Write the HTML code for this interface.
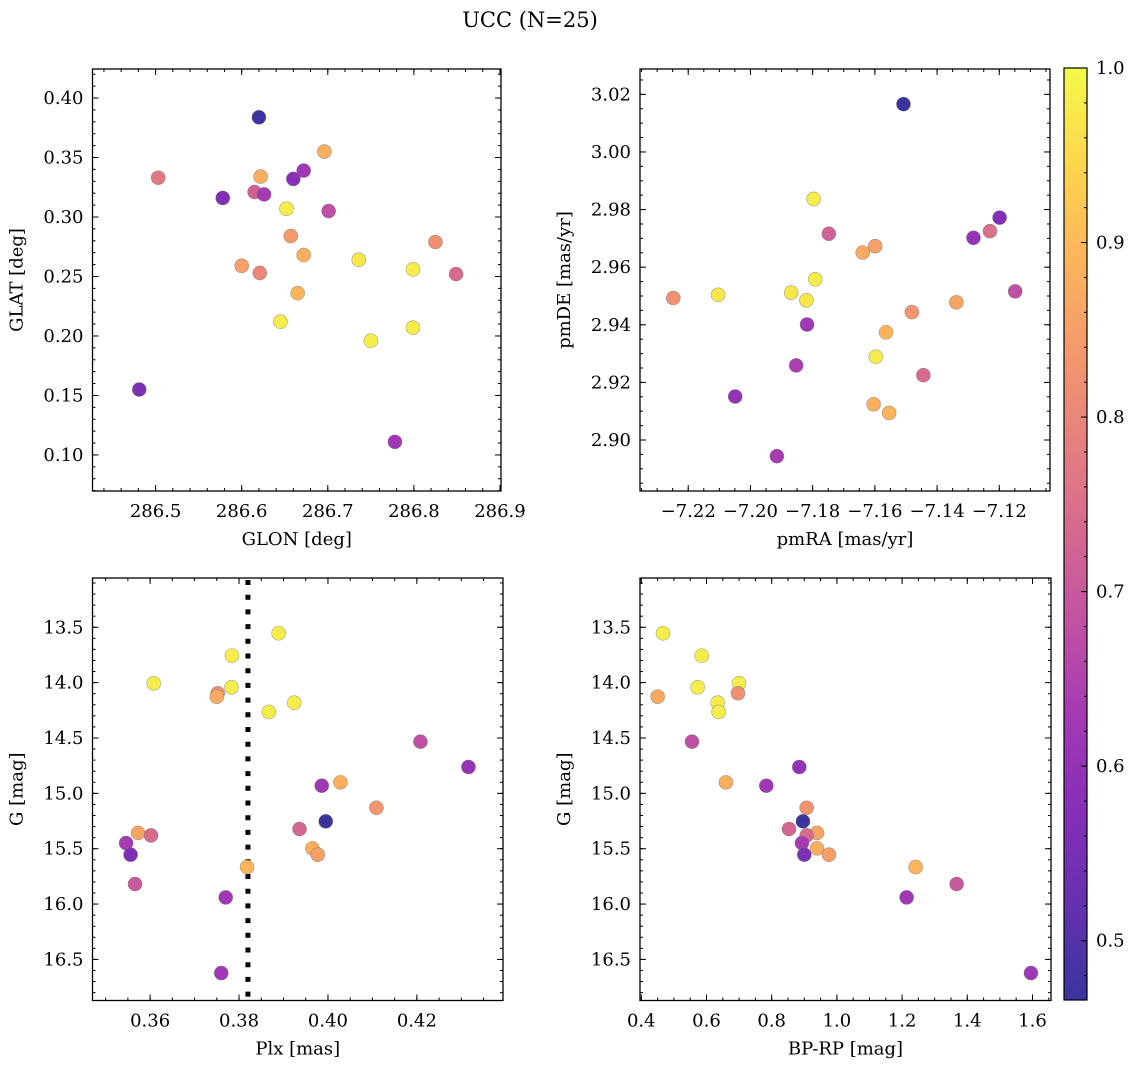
<!DOCTYPE html>
<html><head><meta charset="utf-8">
<style>
html,body{margin:0;padding:0;background:#fff;}
svg{display:block;font-family:"DejaVu Serif","Liberation Serif",serif;}
</style></head>
<body>
<svg id="fig" width="1136" height="1068" viewBox="0 0 1136 1068" xmlns="http://www.w3.org/2000/svg">
<rect width="1136" height="1068" fill="#fff"/>
<text x="530" y="27" font-size="21" text-anchor="middle">UCC (N=25)</text>
</svg>
<script>
// ---- data: panel 1 (GLON vs GLAT) ----
const glon1 = [286.620,286.696,286.503,286.622,286.672,286.660,286.578,286.615,286.626,286.652,286.701,286.657,286.672,286.825,286.600,286.621,286.736,286.799,286.849,286.665,286.645,286.799,286.750,286.481,286.778];
const glat1 = [0.3838,0.355,0.333,0.334,0.339,0.332,0.316,0.321,0.319,0.307,0.305,0.284,0.268,0.279,0.259,0.253,0.264,0.256,0.252,0.236,0.212,0.207,0.196,0.155,0.111];
const col1  = [0.47,0.88,0.77,0.88,0.62,0.58,0.57,0.72,0.63,0.98,0.68,0.84,0.88,0.82,0.85,0.80,0.97,0.98,0.74,0.89,0.98,0.98,0.98,0.56,0.62];
// ---- data: panel 2 (pmRA vs pmDE) ----
const pmra2 = [-7.1508,-7.1797,-7.1748,-7.1639,-7.1599,-7.1199,-7.1283,-7.1230,-7.2248,-7.2104,-7.1869,-7.1820,-7.1792,-7.1149,-7.1338,-7.1481,-7.1818,-7.1564,-7.1597,-7.1853,-7.1444,-7.2049,-7.1604,-7.1554,-7.1915];
const pmde2 = [3.0166,2.9837,2.9716,2.9651,2.9673,2.9772,2.9702,2.9725,2.9493,2.9504,2.9512,2.9485,2.9558,2.9516,2.9478,2.9444,2.9401,2.9374,2.9289,2.9259,2.9225,2.9151,2.9124,2.9094,2.8944];
const col2  = [0.47,0.98,0.72,0.87,0.85,0.57,0.60,0.75,0.82,0.97,0.97,0.97,0.98,0.68,0.86,0.83,0.62,0.89,0.98,0.64,0.74,0.60,0.88,0.89,0.63];
// ---- data: panels 3/4 (Plx, BP-RP vs G) ----
const gmag  = [13.554,13.756,14.006,14.042,14.096,14.127,14.181,14.265,14.533,14.762,14.901,14.931,15.130,15.253,15.322,15.358,15.380,15.449,15.554,15.497,15.554,15.666,15.819,15.940,16.623];
const plx   = [0.3889,0.3784,0.3608,0.3783,0.3752,0.3750,0.3924,0.3867,0.4208,0.4316,0.4028,0.3986,0.4109,0.3995,0.3936,0.3573,0.3602,0.3546,0.3556,0.3965,0.3977,0.3818,0.3566,0.3770,0.3760];
const bprp  = [0.4665,0.5851,0.6996,0.5728,0.6965,0.4501,0.6342,0.6372,0.5554,0.8847,0.6597,0.7834,0.9072,0.8959,0.8530,0.9389,0.9072,0.8928,0.9000,0.9389,0.9757,1.2415,1.3673,1.2139,1.5953];
const col34 = [0.98,0.98,0.98,0.98,0.82,0.87,0.98,0.98,0.68,0.60,0.88,0.62,0.83,0.47,0.73,0.86,0.74,0.63,0.56,0.88,0.85,0.89,0.70,0.62,0.62];
const plxLine = 0.382;
const xTicks1 = [286.5,286.6,286.7,286.8,286.9];
const yTicks1 = [0.10,0.15,0.20,0.25,0.30,0.35,0.40];
const xTicks2 = [-7.22,-7.20,-7.18,-7.16,-7.14,-7.12];
const yTicks2 = [2.90,2.92,2.94,2.96,2.98,3.00,3.02];
const xTicks3 = [0.36,0.38,0.40,0.42];
const yTicksG = [13.5,14.0,14.5,15.0,15.5,16.0,16.5];
const xTicks4 = [0.4,0.6,0.8,1.0,1.2,1.4,1.6];
const cbTicks = [0.5,0.6,0.7,0.8,0.9,1.0];
const vmin = 0.466, vmax = 1.0;

const NS = "http://www.w3.org/2000/svg";
const svg = document.getElementById('fig');
function mk(tag, attrs, parent){ const e=document.createElementNS(NS,tag); for(const k in attrs) e.setAttribute(k,attrs[k]); (parent||svg).appendChild(e); return e; }

const plasma = [[13,8,135],[65,4,157],[106,0,168],[143,13,164],[177,42,144],[204,71,120],[225,100,98],[242,132,75],[252,166,54],[252,206,37],[240,249,33]];
function cmap(v){
  let t=(v-vmin)/(vmax-vmin); t=Math.max(0,Math.min(1,t));
  const f=t*10, i=Math.min(9,Math.floor(f)), r=f-i;
  const c=plasma[i].map((a,k)=>a+(plasma[i+1][k]-a)*r);
  const a=0.82;
  return 'rgb('+c.map(x=>Math.round(x*a+255*(1-a))).join(',')+')';
}

function fmt(v,d){ const s=v.toFixed(d); return s.replace('-','\u2212'); }

function panel(o){
  const g=mk('g',{});
  
  
  const sx=v=>o.x0+(v-o.xl[0])/(o.xl[1]-o.xl[0])*(o.x1-o.x0);
  const sy=o.inv ? (v=>o.y0+(v-o.yl[0])/(o.yl[1]-o.yl[0])*(o.y1-o.y0))
                 : (v=>o.y1-(v-o.yl[0])/(o.yl[1]-o.yl[0])*(o.y1-o.y0));
  const minor=(lo,hi,step)=>{ const out=[]; for(let v=Math.ceil(lo/step-1e-6)*step; v<=hi+1e-9; v+=step) out.push(v); return out; };
  const tk=mk('g',{stroke:'#000','stroke-width':1},g);
  
  
  minor(o.xl[0],o.xl[1],o.xm).forEach(v=>{const x=sx(v);
    mk('line',{x1:x,x2:x,y1:o.y1,y2:o.y1-3},tk); mk('line',{x1:x,x2:x,y1:o.y0,y2:o.y0+3},tk);});
  minor(o.yl[0],o.yl[1],o.ym).forEach(v=>{const y=sy(v);
    mk('line',{x1:o.x0,x2:o.x0+3,y1:y,y2:y},tk); mk('line',{x1:o.x1,x2:o.x1-3,y1:y,y2:y},tk);});
  o.xt.forEach(v=>{const x=sx(v);
    mk('line',{x1:x,x2:x,y1:o.y1,y2:o.y1-6},tk); mk('line',{x1:x,x2:x,y1:o.y0,y2:o.y0+6},tk);
    const t=mk('text',{x:x,y:o.y1+26,'font-size':18,'text-anchor':'middle'},g); t.textContent=fmt(v,o.xd);
    
    });
  o.yt.forEach(v=>{const y=sy(v);
    mk('line',{x1:o.x0,x2:o.x0+6,y1:y,y2:y},tk); mk('line',{x1:o.x1,x2:o.x1-6,y1:y,y2:y},tk);
    const t=mk('text',{x:o.x0-9,y:y+6,'font-size':18,'text-anchor':'end'},g); t.textContent=fmt(v,o.yd);
    
    });
  if(o.vline!==undefined){ const x=sx(o.vline);
    const l=mk('line',{x1:x,x2:x,y1:o.y0+2,y2:o.y1,stroke:'#000','stroke-width':5,'stroke-dasharray':'5 9.7'},g);
    
    }
  const pts=mk('g',{},g);
  
  
  o.xs.forEach((xv,i)=>{
    const c=mk('circle',{cx:sx(xv),cy:sy(o.ys[i]),r:7,fill:cmap(o.cs[i]),stroke:'rgba(110,110,110,0.6)','stroke-width':0.6},pts);
    
    
  });
  const fr=mk('rect',{x:o.x0,y:o.y0,width:o.x1-o.x0,height:o.y1-o.y0,fill:'none',stroke:'#000','stroke-width':1.3},g);
  
  
  const xl=mk('text',{x:(o.x0+o.x1)/2,y:o.y1+54,'font-size':18,'text-anchor':'middle'},g); xl.textContent=o.xlab;
  
  
  const yx=o.x0-70, yc=(o.y0+o.y1)/2;
  const yl=mk('text',{x:yx,y:yc,'font-size':18,'text-anchor':'middle',transform:'rotate(-90 '+yx+' '+yc+')'},g); yl.textContent=o.ylab;
  
  
}

panel({name:'glon-glat-panel',x0:92.5,x1:501,y0:69,y1:491,xl:[286.4267,286.9012],yl:[0.0697,0.4244],
  xt:xTicks1,yt:yTicks1,xm:0.02,ym:0.01,xd:1,yd:2,xs:glon1,ys:glat1,cs:col1,xlab:'GLON [deg]',ylab:'GLAT [deg]'});
panel({name:'pm-panel',x0:640,x1:1050,y0:69,y1:491,xl:[-7.2355,-7.1037],yl:[2.8823,3.0288],
  xt:xTicks2,yt:yTicks2,xm:0.005,ym:0.005,xd:2,yd:2,xs:pmra2,ys:pmde2,cs:col2,xlab:'pmRA [mas/yr]',ylab:'pmDE [mas/yr]'});
panel({name:'plx-g-panel',x0:92.5,x1:503,y0:578,y1:1000.5,xl:[0.34704,0.43937],yl:[13.055,16.871],inv:true,
  xt:xTicks3,yt:yTicksG,xm:0.005,ym:0.1,xd:2,yd:1,xs:plx,ys:gmag,cs:col34,vline:plxLine,xlab:'Plx [mas]',ylab:'G [mag]'});
panel({name:'cmd-panel',x0:640,x1:1051,y0:578,y1:1000.5,xl:[0.396,1.6568],yl:[13.055,16.871],inv:true,
  xt:xTicks4,yt:yTicksG,xm:0.05,ym:0.1,xd:1,yd:1,xs:bprp,ys:gmag,cs:col34,xlab:'BP-RP [mag]',ylab:'G [mag]'});

(function(){
  const x0=1064,x1=1087,y0=68,y1=1000;
  const cb=mk('g',{});
  
  
  const defs=mk('defs',{},cb);
  const lg=mk('linearGradient',{id:'cbg',x1:0,y1:1,x2:0,y2:0},defs);
  for(let i=0;i<=20;i++){ const v=vmin+(vmax-vmin)*i/20; mk('stop',{offset:i/20,'stop-color':cmap(v)},lg); }
  mk('rect',{x:x0,y:y0,width:x1-x0,height:y1-y0,fill:'url(#cbg)',stroke:'#000','stroke-width':1.2},cb);
  const sy=v=>y1-(v-vmin)/(vmax-vmin)*(y1-y0);
  for(let v=0.48; v<=1.0001; v+=0.02){ const y=sy(v); mk('line',{x1:x1,x2:x1-3,y1:y,y2:y,stroke:'#000','stroke-width':1},cb); }
  cbTicks.forEach(v=>{ const y=sy(v);
    mk('line',{x1:x1,x2:x1-6,y1:y,y2:y,stroke:'#000','stroke-width':1},cb);
    const t=mk('text',{x:x1+9,y:y+6,'font-size':18},cb); t.textContent=v.toFixed(1);
    
    });
})();
</script>
</body></html>
